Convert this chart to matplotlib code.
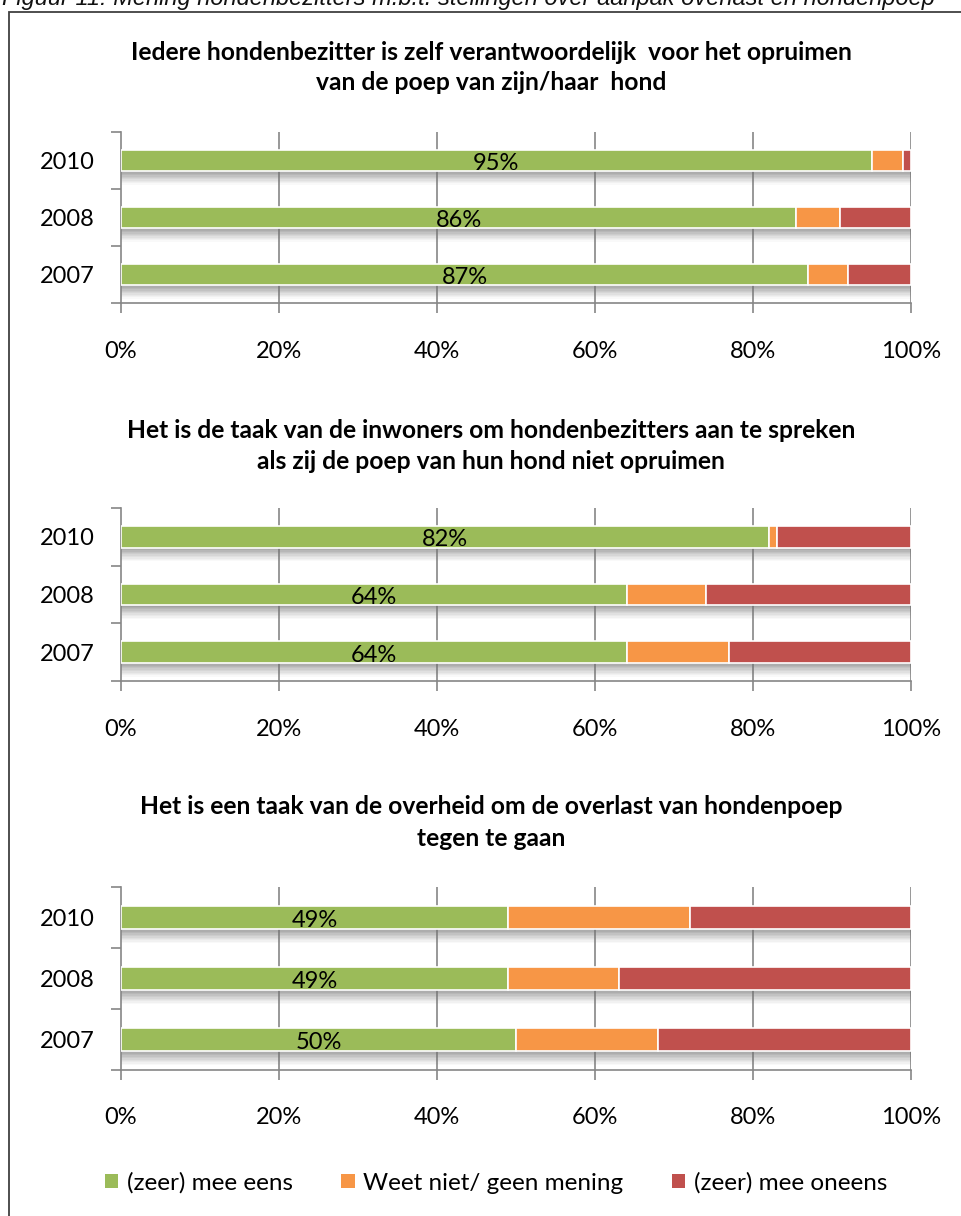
import matplotlib
matplotlib.use("Agg")
import matplotlib.pyplot as plt
from matplotlib.patches import Patch, Rectangle
import numpy as np

years = ["2007", "2008", "2010"]
series_names = ["(zeer) mee eens", "Weet niet/ geen mening", "(zeer) mee oneens"]
colors = ["#9BBB59", "#F79646", "#C0504D"]

titles = [
    "Iedere hondenbezitter is zelf verantwoordelijk  voor het opruimen\nvan de poep van zijn/haar  hond",
    "Het is de taak van de inwoners om hondenbezitters aan te spreken\nals zij de poep van hun hond niet opruimen",
    "Het is een taak van de overheid om de overlast van hondenpoep\ntegen te gaan",
]

# values per chart, order of years: 2007, 2008, 2010
eens_1 = [87, 85.5, 95]
weetniet_1 = [5, 5.5, 4]
oneens_1 = [8, 9, 1]

eens_2 = [64, 64, 82]
weetniet_2 = [13, 10, 1]
oneens_2 = [23, 26, 17]

eens_3 = [50, 49, 49]
weetniet_3 = [18, 14, 23]
oneens_3 = [32, 37, 28]

charts = [
    (eens_1, weetniet_1, oneens_1),
    (eens_2, weetniet_2, oneens_2),
    (eens_3, weetniet_3, oneens_3),
]

xticks = [0, 20, 40, 60, 80, 100]
xticklabels = ["0%", "20%", "40%", "60%", "80%", "100%"]

FONT = "Lato"
plt.rcParams["font.family"] = [FONT, "DejaVu Sans"]

W, H = 962, 1216
fig = plt.figure(figsize=(W / 100, H / 100), dpi=100)

# outer frame and caption
fig.patches.append(Rectangle((9 / W, -0.05), 1.2, 1 - 12 / H + 0.05, transform=fig.transFigure,
                             fill=False, edgecolor="#404040", linewidth=1.3))
fig.text(2 / W, 1 - 5 / H, "Figuur 11: Mening hondenbezitters m.b.t. stellingen over aanpak overlast en hondenpoep",
         family="Liberation Sans", style="italic", fontsize=17, va="baseline", ha="left", color="#111111")

# axes geometry in pixels: (top, bottom)
geom = [(132, 303), (508, 681), (887, 1070)]
title_y = [(52, 83), (430, 462), (807, 839)]
left_px, right_px = 121, 911
grid_c = "#868686"
bar_h = 0.37

for ci, (vals, (top, bot)) in enumerate(zip(charts, geom)):
    ax = fig.add_axes([left_px / W, 1 - bot / H, (right_px - left_px) / W, (bot - top) / H])
    y = np.arange(len(years))
    totals = np.sum(np.array(vals), axis=0)
    # shadow beneath bars
    nstrip = 10
    sh_total = 0.24
    for k in range(nstrip):
        a = 0.65 * (1 - k / nstrip) ** 1.2
        ax.barh(y - bar_h / 2 - (k + 0.5) * sh_total / nstrip, totals, height=sh_total / nstrip,
                left=0, color="#707070", alpha=a, linewidth=0, zorder=1)
    left = np.zeros(len(years))
    for si, v in enumerate(vals):
        ax.barh(y, v, left=left, height=bar_h, color=colors[si], edgecolor="white",
                linewidth=1.2, zorder=3)
        left = left + np.array(v)
    # labels on green segment
    for yi, v in zip(y, vals[0]):
        ax.text(v / 2, yi - 0.05, f"{v:.0f}%", ha="center", va="center", fontsize=17,
                color="black", zorder=4)
    ax.set_xlim(0, 100)
    ax.set_ylim(-0.5, len(years) - 0.5)
    ax.set_xticks(xticks)
    ax.set_xticklabels(xticklabels)
    ax.set_yticks(y)
    ax.set_yticklabels(years)
    ax.set_yticks(np.arange(-0.5, len(years), 1.0), minor=True)
    ax.tick_params(axis="y", which="major", length=0, pad=19, labelsize=17)
    ax.tick_params(axis="y", which="minor", length=7, width=1.2, color=grid_c)
    ax.tick_params(axis="x", which="major", length=7, width=1.2, color=grid_c, pad=20, labelsize=17)
    for t in xticks[1:]:
        ax.axvline(t, color=grid_c, linewidth=1.2, zorder=0)
    for s in ["top", "right"]:
        ax.spines[s].set_visible(False)
    for s in ["left", "bottom"]:
        ax.spines[s].set_color(grid_c)
        ax.spines[s].set_linewidth(1.2)
    ax.set_facecolor("none")
    l1, l2 = titles[ci].split("\n")
    fig.text(491 / W, 1 - title_y[ci][0] / H, l1, ha="center", va="center", fontsize=17.7,
             fontweight="bold")
    fig.text(491 / W, 1 - title_y[ci][1] / H, l2, ha="center", va="center", fontsize=17.7,
             fontweight="bold")

handles = [Patch(facecolor=c, edgecolor="none") for c in colors]
fig.legend(handles, series_names, loc="center", bbox_to_anchor=(496 / W, 1 - 1183 / H), ncol=3,
           frameon=False, fontsize=17.5, handlelength=0.55, handleheight=0.55, handletextpad=0.35,
           columnspacing=2.0)

fig.savefig("out.png", dpi=100)
